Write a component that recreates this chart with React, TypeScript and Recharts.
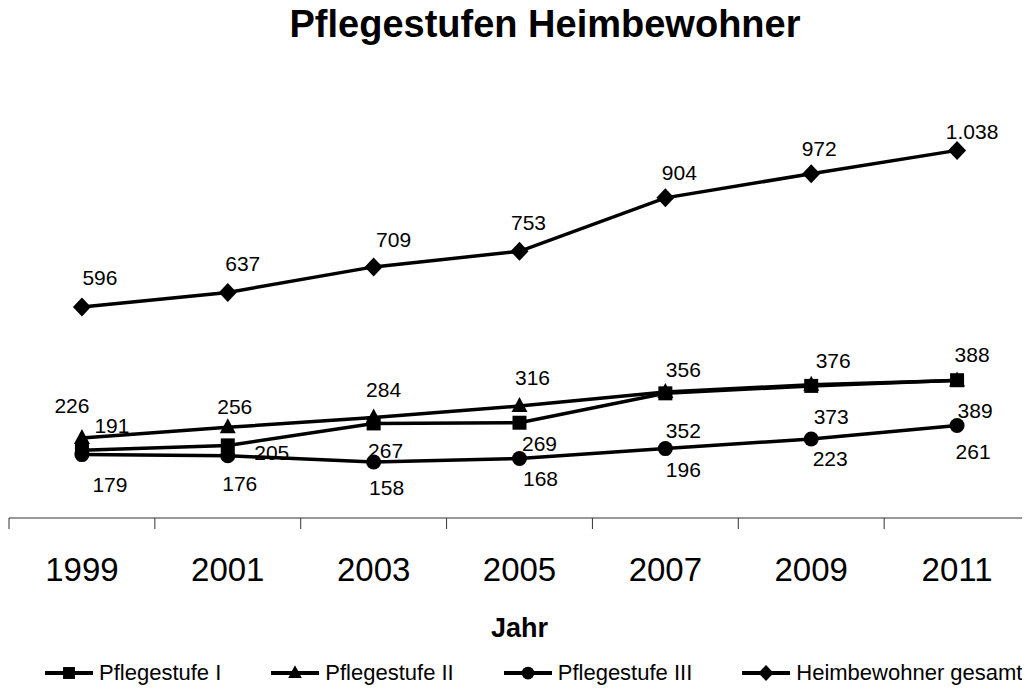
import { LabelList, Legend, Line, LineChart, XAxis, YAxis } from "recharts"

const FONT = '"Liberation Sans", Arial, sans-serif'

const years = [1999, 2001, 2003, 2005, 2007, 2009, 2011]
const stufe1 = [191, 205, 267, 269, 352, 373, 389]
const stufe2 = [226, 256, 284, 316, 356, 376, 388]
const stufe3 = [179, 176, 158, 168, 196, 223, 261]
const gesamt = [596, 637, 709, 753, 904, 972, 1038]

const data = years.map((year, i) => ({
  year,
  stufe1: stufe1[i],
  stufe2: stufe2[i],
  stufe3: stufe3[i],
  gesamt: gesamt[i],
}))

// tick marks sit between the years, labels on the years
const boundaries = [...years.map((y) => y - 1), years[years.length - 1] + 1]
const axisTicks = [...boundaries, ...years].sort((a, b) => a - b)

// hand-placed data labels, offset from their point (like in the original)
const labelOffsets: Record<string, number[][]> = {
  stufe1: [[30, -25], [44, 7], [12, 27], [20, 21], [18, 37], [20, 31], [18, 30]],
  stufe2: [[-10, -32], [7, -21], [10, -28], [13, -29], [18, -22], [22, -24], [15, -26]],
  stufe3: [[28, 30], [12, 28], [13, 25], [21, 20], [18, 21], [19, 19], [16, 26]],
  gesamt: [[18, -29], [15, -29], [20, -27], [9, -29], [14, -25], [8, -25], [15, -19]],
}

const series = [
  { key: "stufe1", name: "Pflegestufe I", shape: "square" },
  { key: "stufe2", name: "Pflegestufe II", shape: "triangle" },
  { key: "stufe3", name: "Pflegestufe III", shape: "circle" },
  { key: "gesamt", name: "Heimbewohner gesamt", shape: "diamond" },
]

const shapeOf = (key: string) => series.find((s) => s.key === key)?.shape || "square"

const fmt = (v: number) => String(v).replace(/\B(?=(\d{3})+(?!\d))/g, ".")

function Marker({ shape, cx, cy, s = 1 }: { shape: string; cx: number; cy: number; s?: number }) {
  if (shape === "square") return <rect x={cx - 7 * s} y={cy - 7 * s} width={14 * s} height={14 * s} fill="#000" />
  if (shape === "triangle")
    return <polygon points={`${cx},${cy - 9 * s} ${cx + 8 * s},${cy + 6 * s} ${cx - 8 * s},${cy + 6 * s}`} fill="#000" />
  if (shape === "circle") return <circle cx={cx} cy={cy} r={7.5 * s} fill="#000" />
  return (
    <polygon
      points={`${cx},${cy - 9.5 * s} ${cx + 9 * s},${cy} ${cx},${cy + 9.5 * s} ${cx - 9 * s},${cy}`}
      fill="#000"
    />
  )
}

const makeDot = (key: string) => (p: any) => <Marker key={`${key}-${p.index}`} shape={shapeOf(key)} cx={p.cx} cy={p.cy} />

const makeLabel = (key: string) => (p: any) => {
  const x = p.x ?? p.viewBox?.x
  const y = p.y ?? p.viewBox?.y
  const [dx, dy] = labelOffsets[key][p.index] || [0, -20]
  return (
    <text
      x={x + dx}
      y={y + dy}
      textAnchor="middle"
      dominantBaseline="central"
      fontSize={21}
      fontFamily={FONT}
      fill="#000"
    >
      {fmt(p.value)}
    </text>
  )
}

function YearTick(props: any) {
  const { x, y, payload } = props
  if (years.includes(payload.value)) {
    return (
      <text x={x} y={y + 52} textAnchor="middle" fontSize={33} fontFamily={FONT} fill="#000">
        {payload.value}
      </text>
    )
  }
  return <line x1={x} x2={x} y1={y - 11} y2={y} stroke="#333" strokeWidth={1} />
}

function JahrLabel(props: any) {
  const vb = props.viewBox
  return (
    <text x={vb.x + vb.width / 2} y={vb.y + 119} textAnchor="middle" fontSize={27} fontWeight="bold" fontFamily={FONT} fill="#000">
      Jahr
    </text>
  )
}

function LegendContent(props: any) {
  const order = series.map((s) => s.key)
  const items = [...(props.payload || [])].sort((a: any, b: any) => order.indexOf(a.dataKey) - order.indexOf(b.dataKey))
  return (
    <div style={{ display: "flex", alignItems: "center", height: 24, paddingLeft: 36, fontFamily: FONT, fontSize: 22 }}>
      {items.map((item: any) => (
        <div key={item.dataKey} style={{ display: "flex", alignItems: "center", marginRight: 50 }}>
          <svg width={48} height={20} style={{ marginRight: 6 }}>
            <line x1={0} x2={48} y1={10} y2={10} stroke="#000" strokeWidth={4} />
            <Marker shape={shapeOf(item.dataKey)} cx={24} cy={10} s={0.85} />
          </svg>
          <span style={{ color: "#000", lineHeight: "24px", whiteSpace: "nowrap" }}>{item.value}</span>
        </div>
      ))}
    </div>
  )
}

export default function App() {
  return (
    <div style={{ margin: -8 }}>
      <LineChart
        width={1030}
        height={693}
        data={data}
        margin={{ top: 93, right: 0, bottom: 8, left: 9 }}
        style={{ fontFamily: FONT }}
      >
        <text x={545} y={37} textAnchor="middle" fontSize={38} fontWeight="bold" fontFamily={FONT} fill="#000">
          Pflegestufen Heimbewohner
        </text>
        <XAxis
          dataKey="year"
          type="number"
          domain={[boundaries[0], boundaries[boundaries.length - 1]]}
          ticks={axisTicks}
          interval={0}
          tick={<YearTick />}
          tickLine={false}
          tickSize={11}
          tickMargin={0}
          stroke="#333"
          height={143}
          label={<JahrLabel />}
        />
        <YAxis hide domain={[0, 1200]} />
        <Legend verticalAlign="bottom" align="left" content={<LegendContent />} />
        {series.map((s) => (
          <Line
            key={s.key}
            dataKey={s.key}
            name={s.name}
            stroke="#000"
            strokeWidth={3.5}
            dot={makeDot(s.key)}
            activeDot={false}
            isAnimationActive={false}
          >
            <LabelList dataKey={s.key} content={makeLabel(s.key)} />
          </Line>
        ))}
      </LineChart>
    </div>
  )
}
